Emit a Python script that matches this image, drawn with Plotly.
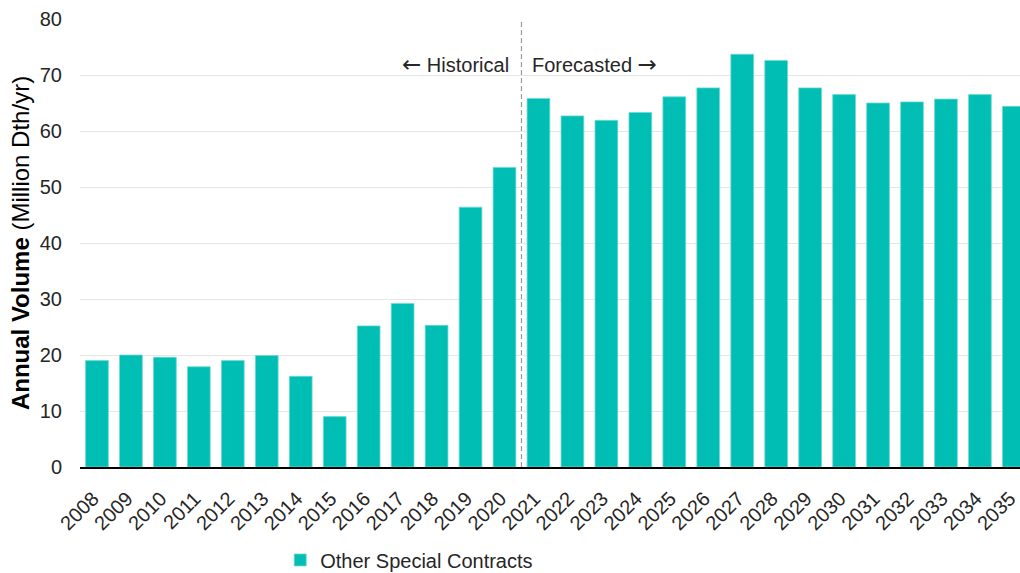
import plotly.graph_objects as go

# Annual volume by year (Million Dth/yr)
years = [str(y) for y in range(2008, 2036)]
volumes = [19.0, 20.0, 19.6, 17.9, 19.0, 19.9, 16.2, 9.0, 25.2, 29.2, 25.3,
           46.4, 53.5,
           65.8, 62.7, 61.9, 63.3, 66.1, 67.7, 73.7, 72.6, 67.7, 66.5, 65.0,
           65.2, 65.7, 66.5, 64.4]
series_name = "Other Special Contracts"
y_ticks = [0, 10, 20, 30, 40, 50, 60, 70, 80]
split_year = "2021"

FONT = "Liberation Sans, Arial, sans-serif"
ARROW_FONT = "DejaVu Sans"
TEXT = "#262626"
BAR = "#00BEB4"

x_idx = list(range(len(years)))
split_x = years.index(split_year) - 0.5


def arrow(ch):
    return f'<span style="font-family:{ARROW_FONT};font-size:23px">{ch}</span>'


fig = go.Figure()
fig.add_trace(go.Bar(
    x=x_idx, y=volumes, name=series_name,
    marker=dict(color=BAR, line=dict(color="#6fd9d2", width=0.8)),
    showlegend=True,
))

# Divider between historical and forecasted years
fig.add_shape(type="line", xref="x", yref="y",
              x0=split_x, x1=split_x, y0=0, y1=80,
              line=dict(color="#9a9a9a", width=1.2, dash="5px,3px"))
fig.add_annotation(x=split_x, y=72, xref="x", yref="y",
                   text=arrow("←") + " Historical",
                   showarrow=False, xanchor="right", xshift=-10,
                   font=dict(family=FONT, size=20, color=TEXT))
fig.add_annotation(x=split_x, y=72, xref="x", yref="y",
                   text="Forecasted " + arrow("→"),
                   showarrow=False, xanchor="left", xshift=9,
                   font=dict(family=FONT, size=20, color=TEXT))

fig.update_layout(
    width=1020, height=573,
    margin=dict(l=80, r=0, t=19, b=106, autoexpand=False),
    plot_bgcolor="white", paper_bgcolor="white",
    bargap=0.33,
    font=dict(family=FONT, size=20, color=TEXT),
    showlegend=True,
    legend=dict(orientation="h", x=0.213, xanchor="left", y=-0.164, yanchor="top",
                font=dict(family=FONT, size=20, color=TEXT),
                itemwidth=30, bgcolor="rgba(0,0,0,0)"),
)
fig.update_xaxes(
    range=[-0.5, 27.18], automargin=False,
    tickmode="array", tickvals=x_idx, ticktext=years,
    tickangle=-45, ticklabelstandoff=10, ticklabelshift=-4,
    ticklabeloverflow="allow",
    showline=True, linecolor="black", linewidth=2,
    showgrid=False, ticks="",
    tickfont=dict(family=FONT, size=20, color=TEXT),
)
fig.update_yaxes(
    range=[0, 80], tickvals=y_ticks, automargin=False,
    showgrid=True, gridcolor="#e6e6e6", gridwidth=1,
    zeroline=False, showline=False, ticks="",
    ticklabelstandoff=17,
    tickfont=dict(family=FONT, size=20, color=TEXT),
    title=dict(text="<b>Annual Volume</b> (Million Dth/yr)",
               font=dict(family=FONT, size=24, color="black"), standoff=3),
)

fig.write_html("out.html")
